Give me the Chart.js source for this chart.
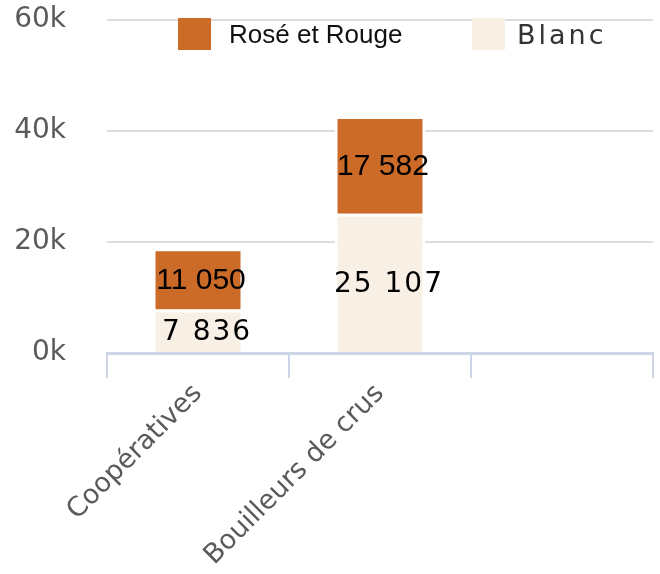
<!DOCTYPE html>
<html>
<head>
<meta charset="utf-8">
<script src="https://cdn.jsdelivr.net/npm/chart.js@4"></script>
<style>
  body { margin: 0; background: #fff; }
  #wrap { position: relative; width: 660px; height: 574px; }
  #legend .item { position: absolute; top: 18px; height: 32px; display: flex; align-items: center; }
  #legend .swatch { width: 33px; height: 32px; flex: none; }
</style>
</head>
<body>
<div id="wrap">
  <canvas id="chart" width="660" height="574"></canvas>
  <div id="legend"></div>
</div>
<script>
// Data
const categories = ['Coopératives', 'Bouilleurs de crus', ''];
const seriesNames = ['Rosé et Rouge', 'Blanc'];
const roseRouge = [11050, 17582, null];
const blanc = [7836, 25107, null];
const yTicks = [0, 20000, 40000, 60000];

const ORANGE = '#cc6a28';
const CREAM = '#f8f0e4';

function fmt(v) {
    return String(v).replace(/\B(?=(\d{3})+(?!\d))/g, ' ');
}

// HTML legend, sits over the top of the plot
const legendItems = [
    { name: seriesNames[0], color: ORANGE, left: 178, gap: 18, font: '26px "Liberation Sans", Arial, sans-serif', spacing: '0px', text: '#111' },
    { name: seriesNames[1], color: CREAM, left: 472, gap: 12, font: '27px "DejaVu Sans", sans-serif', spacing: '3px', text: '#333' },
];
const legendEl = document.getElementById('legend');
legendItems.forEach(it => {
    const div = document.createElement('div');
    div.className = 'item';
    div.style.left = it.left + 'px';
    const sw = document.createElement('span');
    sw.className = 'swatch';
    sw.style.background = it.color;
    const txt = document.createElement('span');
    txt.textContent = it.name;
    txt.style.font = it.font;
    txt.style.letterSpacing = it.spacing;
    txt.style.color = it.text;
    txt.style.marginLeft = it.gap + 'px';
    div.appendChild(sw);
    div.appendChild(txt);
    legendEl.appendChild(div);
});

// value labels inside the bar segments
const valueLabels = {
    id: 'valueLabels',
    afterDatasetsDraw(chart) {
        const ctx = chart.ctx;
        chart.data.datasets.forEach((ds, i) => {
            const meta = chart.getDatasetMeta(i);
            const st = ds.labelStyle;
            meta.data.forEach((bar, j) => {
                const v = ds.data[j];
                if (v == null) return;
                ctx.save();
                ctx.font = st.font;
                ctx.letterSpacing = st.spacing;
                ctx.fillStyle = '#000';
                ctx.textAlign = 'center';
                ctx.textBaseline = 'middle';
                ctx.fillText(fmt(v), bar.x + st.dx, (bar.y + bar.base) / 2 + 2);
                ctx.restore();
            });
        });
    }
};

function drawChart() {
    new Chart(document.getElementById('chart'), {
        type: 'bar',
        data: {
            labels: categories,
            datasets: [
                {
                    label: seriesNames[1],
                    data: blanc,
                    backgroundColor: CREAM,
                    borderColor: '#ffffff',
                    borderWidth: 3,
                    labelStyle: { font: '28px "DejaVu Sans", sans-serif', spacing: '2px', dx: 9 },
                },
                {
                    label: seriesNames[0],
                    data: roseRouge,
                    backgroundColor: ORANGE,
                    borderColor: '#ffffff',
                    borderWidth: 3,
                    labelStyle: { font: '30px "Liberation Sans", Arial, sans-serif', spacing: '0px', dx: 3 },
                },
            ],
        },
        options: {
            responsive: false,
            animation: false,
            barPercentage: 0.5,
            categoryPercentage: 1,
            layout: {
                padding: { top: 20, right: 7, left: 14, bottom: 0 },
            },
            plugins: {
                legend: { display: false },
                tooltip: { enabled: false },
            },
            scales: {
                x: {
                    stacked: true,
                    afterFit: axis => {
                        axis.height = 221;
                        axis.paddingLeft = 0;
                        axis.paddingRight = 0;
                    },
                    grid: {
                        offset: true,
                        drawOnChartArea: false,
                        drawTicks: true,
                        tickLength: 25,
                        color: '#ccd6e6',
                        lineWidth: 2,
                    },
                    border: { color: '#ccd6e6', width: 3 },
                    ticks: {
                        autoSkip: false,
                        minRotation: 45,
                        maxRotation: 45,
                        padding: 0,
                        color: '#5a5a5a',
                        font: { family: '"DejaVu Sans", sans-serif', size: 27 },
                    },
                },
                y: {
                    stacked: true,
                    min: 0,
                    max: 60000,
                    afterBuildTicks: axis => {
                        axis.ticks = yTicks.map(v => ({ value: v }));
                    },
                    afterFit: axis => {
                        axis.width = 93;
                        axis.paddingTop = 0;
                        axis.paddingBottom = 0;
                    },
                    grid: {
                        color: '#dddddd',
                        lineWidth: 2,
                        drawTicks: false,
                    },
                    border: { display: false },
                    ticks: {
                        padding: 41,
                        color: '#5a5a5a',
                        font: { family: '"DejaVu Sans", sans-serif', size: 28 },
                        callback: v => (v / 1000) + 'k',
                    },
                },
            },
        },
        plugins: [valueLabels],
    });
}

Promise.all([
    document.fonts.load('27px "DejaVu Sans"'),
    document.fonts.load('30px "Liberation Sans"'),
]).then(drawChart, drawChart);
</script>
</body>
</html>
